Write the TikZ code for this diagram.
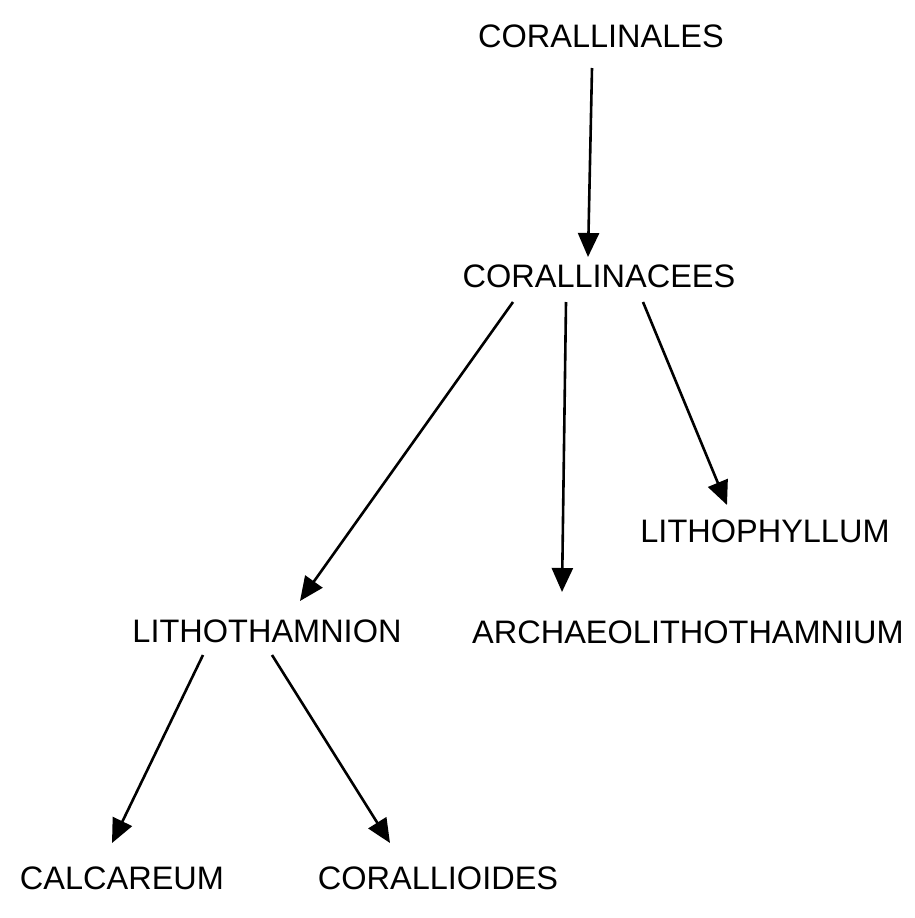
\documentclass[tikz,border=0pt]{standalone}
\usepackage{fontspec}
\setmainfont{Liberation Sans}
\usetikzlibrary{arrows.meta}
\begin{document}
\begin{tikzpicture}[x=1pt,y=-1pt,
  taxon/.style={inner sep=0pt, font=\fontsize{32.5}{38}\selectfont},
  arr/.style={line width=2.6pt, -{Triangle[length=24pt,width=21pt]}}]
\useasboundingbox (0,0) rectangle (915,918);
% taxon labels
\node[taxon] (ord) at (601,36)  {CORALLINALES};
\node[taxon] (fam) at (599,276) {CORALLINACEES};
\node[taxon] (lph) at (765,531) {LITHOPHYLLUM};
\node[taxon] (lth) at (267,631) {LITHOTHAMNION};
\node[taxon] (arc) at (688,632) {ARCHAEOLITHOTHAMNIUM};
\node[taxon] (cal) at (122,878) {CALCAREUM};
\node[taxon] (crl) at (438,878) {CORALLIOIDES};
% descent arrows
\draw[arr] ([shift={(-9,32)}]ord.center)  -- ([shift={(-11,-19)}]fam.center);
\draw[arr] ([shift={(-86,26)}]fam.center) -- ([shift={(33,-30)}]lth.center);
\draw[arr] ([shift={(-33,26)}]fam.center) -- ([shift={(-126,-40)}]arc.center);
\draw[arr] ([shift={(44,26)}]fam.center)  -- ([shift={(-38,-26)}]lph.center);
\draw[arr] ([shift={(-64,24)}]lth.center) -- ([shift={(-10,-35)}]cal.center);
\draw[arr] ([shift={(5,24)}]lth.center)   -- ([shift={(-48,-35)}]crl.center);
\end{tikzpicture}
\end{document}
